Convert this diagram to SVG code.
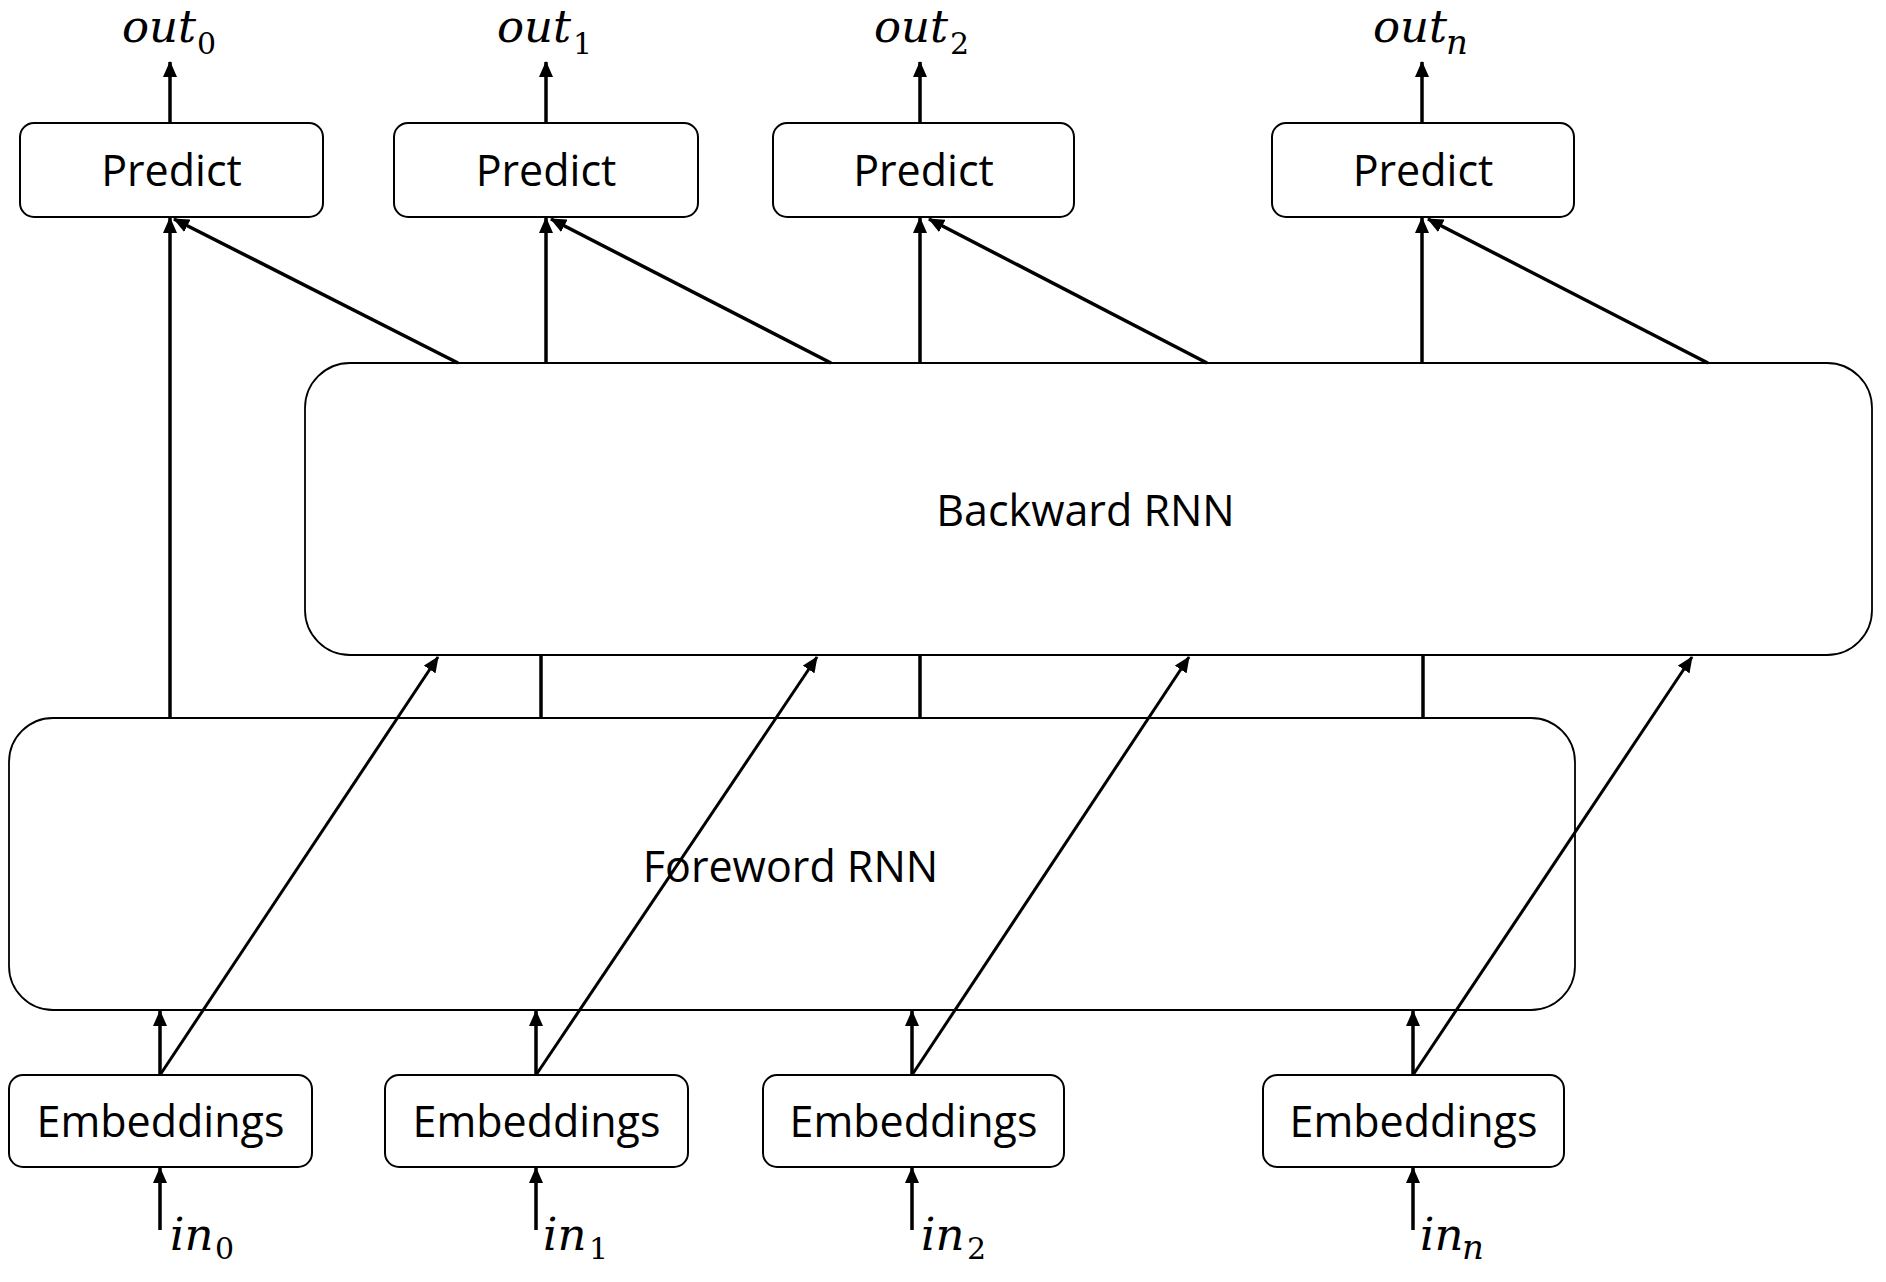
<svg xmlns="http://www.w3.org/2000/svg" width="1886" height="1282" viewBox="0 0 1886 1282">
<style>
.box{fill:none;stroke:#000;stroke-width:2}
.big{fill:none;stroke:#000;stroke-width:1.8}
.lbl{font-family:"Open Sans","Noto Sans",sans-serif;font-size:43px;fill:#000;text-anchor:middle}
.math{font-family:"DejaVu Serif","Liberation Serif",serif;font-style:italic;font-size:45px;fill:#000}
.sub{font-family:"DejaVu Serif","Liberation Serif",serif;font-size:30px;fill:#000;font-style:normal}
.subi{font-style:italic;font-size:34px}
.c{stroke:#000;stroke-width:3.5;fill:none}
.d{stroke-width:3}
.a{marker-end:url(#ah)}
</style>
<defs>
<marker id="ah" markerUnits="userSpaceOnUse" markerWidth="16" markerHeight="14" viewBox="0 0 16 14" refX="15" refY="7" orient="auto">
<path d="M0,0 L16,7 L0,14 z" fill="#000"/>
</marker>
</defs>
<rect width="1886" height="1282" fill="#fff"/>

<g id="predict0"><rect class="box" x="20" y="123" width="303" height="94" rx="14"/><text class="lbl" x="171.5" y="186">Predict</text></g>
<g id="predict1"><rect class="box" x="394" y="123" width="304" height="94" rx="14"/><text class="lbl" x="546" y="186">Predict</text></g>
<g id="predict2"><rect class="box" x="773" y="123" width="301" height="94" rx="14"/><text class="lbl" x="923.5" y="186">Predict</text></g>
<g id="predict3"><rect class="box" x="1272" y="123" width="302" height="94" rx="14"/><text class="lbl" x="1423" y="186">Predict</text></g>

<g id="backward"><rect class="big" x="305" y="363" width="1567" height="292" rx="45"/><text class="lbl" x="1085.5" y="526">Backward RNN</text></g>
<g id="foreword"><rect class="big" x="9" y="718" width="1566" height="292" rx="44"/><text class="lbl" x="790.5" y="882">Foreword RNN</text></g>

<g id="emb0"><rect class="box" x="9" y="1075" width="303" height="92" rx="14"/><text class="lbl" x="160.5" y="1137">Embeddings</text></g>
<g id="emb1"><rect class="box" x="385" y="1075" width="303" height="92" rx="14"/><text class="lbl" x="536.5" y="1137">Embeddings</text></g>
<g id="emb2"><rect class="box" x="763" y="1075" width="301" height="92" rx="14"/><text class="lbl" x="913.5" y="1137">Embeddings</text></g>
<g id="emb3"><rect class="box" x="1263" y="1075" width="301" height="92" rx="14"/><text class="lbl" x="1413.5" y="1137">Embeddings</text></g>

<g id="out0"><text class="math" x="122" y="42">out<tspan class="sub" x="197" y="54">0</tspan></text></g>
<g id="out1"><text class="math" x="497" y="42">out<tspan class="sub" x="573" y="54">1</tspan></text></g>
<g id="out2"><text class="math" x="874" y="42">out<tspan class="sub" x="950" y="54">2</tspan></text></g>
<g id="outn"><text class="math" x="1373" y="42">out<tspan class="sub subi" x="1446" y="54">n</tspan></text></g>

<g id="in0"><text class="math" x="170" y="1250">in<tspan class="sub" x="215" y="1259">0</tspan></text></g>
<g id="in1"><text class="math" x="543" y="1250">in<tspan class="sub" x="589" y="1259">1</tspan></text></g>
<g id="in2"><text class="math" x="921" y="1250">in<tspan class="sub" x="967" y="1259">2</tspan></text></g>
<g id="inn"><text class="math" x="1420" y="1250">in<tspan class="sub subi" x="1462" y="1259">n</tspan></text></g>

<g id="connectors">
<line class="c a" x1="170" y1="123" x2="170" y2="62"/>
<line class="c a" x1="546" y1="123" x2="546" y2="62"/>
<line class="c a" x1="920" y1="123" x2="920" y2="62"/>
<line class="c a" x1="1422" y1="123" x2="1422" y2="62"/>
<line class="c a" x1="170" y1="718" x2="170" y2="218"/>
<line class="c" x1="541" y1="718" x2="541" y2="655"/>
<line class="c a" x1="546" y1="363" x2="546" y2="218"/>
<line class="c" x1="920" y1="718" x2="920" y2="655"/>
<line class="c a" x1="920" y1="363" x2="920" y2="218"/>
<line class="c" x1="1423" y1="718" x2="1423" y2="655"/>
<line class="c a" x1="1422" y1="363" x2="1422" y2="218"/>
<line class="c a" x1="458" y1="363" x2="174" y2="219"/>
<line class="c a" x1="831" y1="363" x2="551" y2="219"/>
<line class="c a" x1="1207" y1="363" x2="929" y2="219"/>
<line class="c a" x1="1708" y1="363" x2="1428" y2="219"/>
<line class="c a" x1="160" y1="1075" x2="160" y2="1011"/>
<line class="c a" x1="536" y1="1075" x2="536" y2="1011"/>
<line class="c a" x1="912" y1="1075" x2="912" y2="1011"/>
<line class="c a" x1="1413" y1="1075" x2="1413" y2="1011"/>
<line class="c d a" x1="160" y1="1075" x2="438" y2="657"/>
<line class="c d a" x1="536" y1="1075" x2="817" y2="657"/>
<line class="c d a" x1="912" y1="1075" x2="1189" y2="657"/>
<line class="c d a" x1="1413" y1="1075" x2="1692" y2="657"/>
<line class="c a" x1="160" y1="1230" x2="160" y2="1168"/>
<line class="c a" x1="536" y1="1230" x2="536" y2="1168"/>
<line class="c a" x1="912" y1="1230" x2="912" y2="1168"/>
<line class="c a" x1="1413" y1="1230" x2="1413" y2="1168"/>
</g>
</svg>
